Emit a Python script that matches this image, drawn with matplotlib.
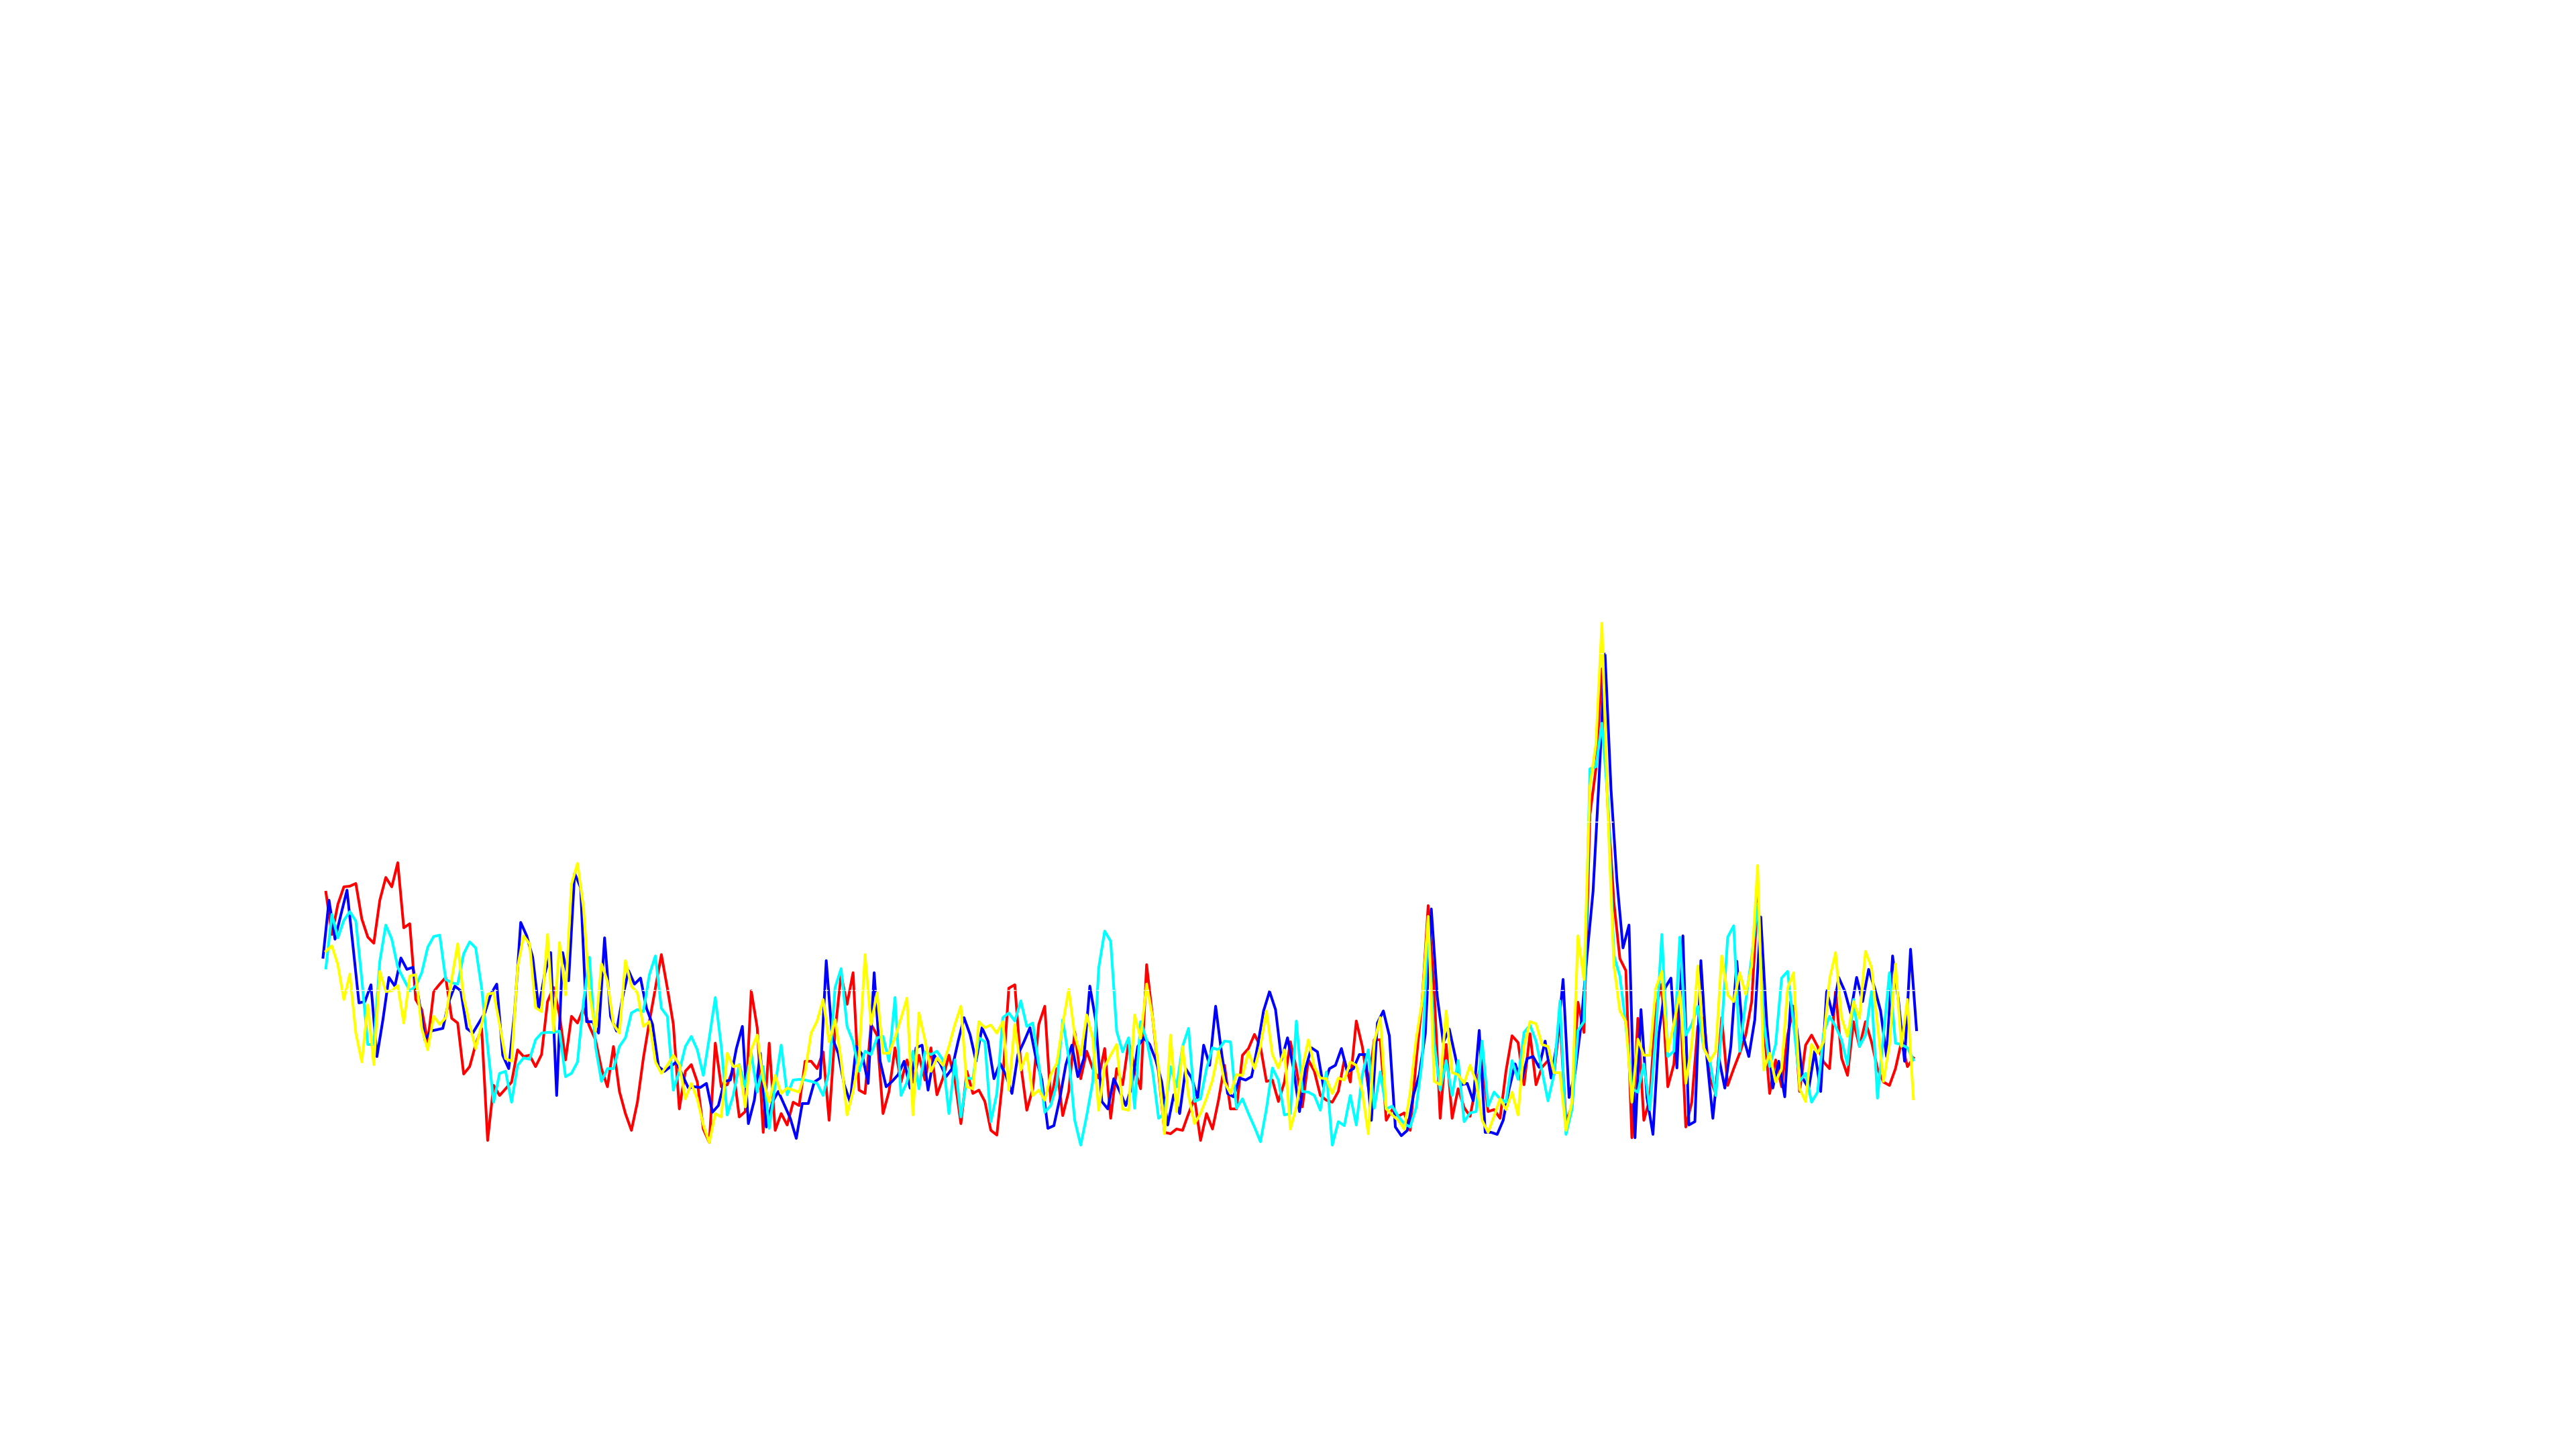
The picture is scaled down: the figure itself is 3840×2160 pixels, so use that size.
import numpy as np
import matplotlib
matplotlib.use("Agg")
import matplotlib.pyplot as plt
from matplotlib.ticker import MultipleLocator

# ── Data (amplitude, arbitrary units) ─────────────────────────────────────────
red = [
    397, 334, 379, 405, 406, 410, 357, 330, 321, 385,
    419, 405, 441, 344, 350, 237, 222, 174, 249, 260,
    270, 209, 202, 126, 137, 170, 194, 27, 109, 94,
    104, 114, 162, 152, 154, 137, 155, 234, 255, 214,
    147, 212, 202, 224,
    197, 177, 134, 107, 167, 100, 67, 42, 84, 150,
    204, 254, 304, 254, 200, 74, 130, 140, 114, 44,
    24, 172, 107, 110, 134, 62, 70, 250, 195, 39,
    172, 42, 67, 50, 84, 79, 145, 145, 134, 159,
    57, 190, 274, 230,
    277, 102, 97, 200, 184, 67, 100, 165, 114, 147,
    114, 154, 117, 165, 95, 120, 154, 117, 52, 130,
    97, 102, 85, 42, 35, 120, 254, 259, 140, 72,
    104, 200, 227, 84, 134, 64, 100, 189, 119, 160,
    134, 120, 164, 60, 134,
    110, 174, 134, 104, 289, 210, 127, 39, 37, 44,
    42, 67, 90, 27, 67, 44, 87, 139, 74, 74,
    154, 164, 185, 167, 115, 117, 85, 114, 174, 134,
    77, 147, 130, 94, 87, 84, 100, 147, 114, 205,
    167, 107, 177, 177, 57,
    73, 63, 68, 42, 146, 235, 377, 251, 60, 170,
    60, 104, 76, 63, 110, 146, 70, 73, 60, 131,
    183, 173, 110, 186, 110, 136, 146, 125, 209, 55,
    78, 233, 188, 513, 581, 730, 523, 382, 298, 280,
    31, 209, 57, 89, 225,
    260, 107, 140, 249, 47, 84, 197, 210, 120, 97,
    210, 109, 134, 157, 184, 234, 390, 204, 97, 147,
    107, 184, 227, 100, 169, 184, 167, 144, 134, 250,
    150, 124, 204, 167, 204, 174, 134, 114, 109, 134,
    174, 137, 150,
]

blue = [
    300, 385, 327, 364, 400, 317, 232, 234, 259, 152,
    207, 270, 257, 299, 282, 285, 237, 177, 190, 192,
    194, 234, 257, 250, 194, 187, 202, 217, 245, 260,
    154, 134, 220, 352, 332, 300, 224, 275, 307, 94,
    307, 265, 425, 404,
    204, 204, 187, 329, 212, 190, 240, 280, 260, 269,
    224, 200, 137, 130, 137, 144, 124, 105, 107, 106,
    112, 69, 79, 115, 117, 164, 197, 52, 87, 157,
    47, 84, 100, 80, 60, 30, 82, 82, 114, 120,
    295, 180, 157, 110,
    84, 167, 155, 112, 277, 145, 107, 115, 125, 145,
    105, 165, 169, 102, 154, 142, 122, 134, 174, 210,
    185, 145, 195, 175, 119, 142, 124, 97, 155, 174,
    195, 150, 117, 45, 49, 90, 140, 169, 122, 149,
    257, 205, 85, 74, 119,
    100, 79, 107, 167, 180, 170, 147, 114, 50, 95,
    67, 134, 120, 90, 169, 139, 227, 157, 97, 92,
    120, 117, 122, 167, 220, 249, 222, 147, 180, 134,
    70, 134, 165, 159, 107, 134, 139, 164, 129, 134,
    155, 155, 57, 202, 220,
    183, 47, 34, 42, 94, 125, 186, 372, 241, 173,
    193, 152, 110, 112, 86, 191, 39, 39, 36, 57,
    104, 141, 115, 149, 152, 136, 175, 120, 173, 267,
    91, 128, 199, 303, 398, 565, 752, 550, 413, 314,
    348, 31, 222, 91, 36,
    187, 254, 269, 135, 332, 50, 55, 295, 150, 60,
    150, 105, 167, 294, 184, 152, 207, 360, 200, 105,
    145, 92, 234, 194, 120, 104, 160, 100, 250, 214,
    270, 250, 217, 270, 234, 282, 254, 220, 152, 302,
    234, 145, 312, 192,
]

cyan = [
    284, 364, 329, 355, 368, 354, 267, 170, 170, 294,
    348, 327, 285, 267, 250, 257, 277, 315, 331, 333,
    267, 262, 260, 305, 323, 314, 254, 167, 84, 127,
    130, 84, 139, 150, 148, 177, 187, 188, 188, 190,
    122, 127, 144, 234,
    300, 167, 115, 134, 134, 167, 180, 217, 222, 219,
    274, 302, 224, 212, 102, 130, 167, 182, 162, 124,
    180, 240, 167, 65, 94, 140, 107, 157, 99, 137,
    45, 110, 169, 95, 117, 118, 117, 115, 112, 94,
    130, 255, 283, 197,
    174, 130, 160, 155, 180, 182, 145, 240, 94, 114,
    160, 104, 159, 155, 160, 147, 67, 147, 62, 120,
    119, 180, 174, 55, 97, 210, 217, 205, 235, 197,
    202, 140, 69, 79, 110, 207, 150, 57, 20, 64,
    114, 284, 339, 324, 190,
    159, 180, 75, 204, 177, 130, 60, 67, 137, 107,
    167, 194, 85, 89, 134, 165, 162, 175, 174, 75,
    89, 67, 47, 25, 74, 135, 117, 65, 67, 205,
    100, 99, 94, 72, 129, 20, 55, 49, 94, 50,
    124, 162, 75, 129, 74,
    78, 63, 52, 47, 76, 146, 353, 173, 102, 146,
    94, 146, 55, 68, 70, 175, 78, 99, 89, 84,
    146, 118, 188, 199, 175, 131, 86, 125, 235, 36,
    73, 191, 204, 581, 584, 649, 534, 303, 272, 199,
    104, 99, 141, 73, 183,
    334, 152, 160, 330, 184, 200, 227, 164, 147, 94,
    194, 330, 347, 160, 234, 300, 380, 207, 137, 170,
    269, 279, 200, 115, 127, 84, 99, 187, 212, 197,
    177, 140, 237, 167, 184, 249, 90, 184, 277, 172,
    170, 165, 147,
]

yellow = [
    309, 317, 289, 237, 275, 187, 144, 229, 140, 279,
    249, 250, 258, 202, 272, 274, 194, 162, 212, 200,
    210, 267, 320, 240, 200, 164, 200, 245, 247, 200,
    149, 145, 285, 332, 320, 225, 219, 334, 190, 322,
    244, 409, 440, 374,
    247, 190, 290, 264, 200, 187, 295, 257, 247, 197,
    204, 144, 127, 139, 154, 140, 89, 112, 89, 50,
    24, 67, 62, 157, 137, 139, 77, 162, 184, 117,
    84, 124, 97, 105, 102, 99, 129, 187, 205, 237,
    174, 207, 147, 65,
    100, 150, 304, 200, 247, 157, 157, 180, 209, 239,
    65, 217, 177, 130, 150, 139, 167, 200, 227, 107,
    104, 204, 195, 199, 187, 204, 102, 200, 132, 157,
    94, 102, 87, 125, 142, 200, 252, 184, 154, 214,
    180, 72, 137, 154, 170,
    74, 72, 214, 179, 260, 210, 134, 37, 184, 70,
    167, 94, 52, 67, 90, 117, 160, 114, 97, 125,
    124, 159, 134, 167, 220, 155, 135, 162, 44, 77,
    134, 177, 137, 120, 119, 97, 120, 117, 144, 139,
    100, 37, 174, 210, 74,
    65, 57, 44, 99, 178, 235, 361, 115, 110, 220,
    128, 125, 112, 139, 115, 57, 39, 63, 89, 73,
    99, 65, 167, 204, 201, 170, 167, 128, 128, 42,
    84, 332, 267, 555, 618, 798, 513, 288, 220, 204,
    84, 178, 154, 154, 254,
    279, 160, 200, 249, 112, 170, 287, 165, 145, 160,
    302, 244, 234, 277, 245, 287, 437, 132, 157, 114,
    134, 254, 277, 104, 85, 170, 157, 174, 267, 307,
    210, 182, 234, 209, 309, 285, 200, 115, 170, 290,
    167, 237, 89,
]

BLUE_SHIFT = -0.48   # blue samples sit half a step ahead of the others


def main():
    fig = plt.figure(figsize=(19.2, 10.8), dpi=200, facecolor="white")
    ax = fig.add_axes([0, 0, 1, 1])
    ax.set_facecolor("white")

    x = np.arange(len(red))
    xb = np.arange(len(blue)) + BLUE_SHIFT

    lw = 1.45
    ax.plot(x, red, color=(1, 0, 0), lw=lw)
    ax.plot(xb, blue, color=(0, 0, 1), lw=lw)
    ax.plot(x, cyan, color=(0, 1, 1), lw=lw)
    ax.plot(x, yellow, color=(1, 1, 0), lw=lw)

    ax.set_xlim(-54.4, 375.6)
    ax.set_ylim(-433, 1727)

    # white dashed grid over white background: only shows where it cuts lines
    ax.yaxis.set_major_locator(MultipleLocator(251))
    ax.set_axisbelow(False)
    ax.grid(axis="y", color="white", linestyle="--", linewidth=0.5)
    ax.tick_params(left=False, bottom=False, labelleft=False, labelbottom=False)
    for s in ax.spines.values():
        s.set_visible(False)

    fig.savefig("out.png", dpi=200, facecolor="white")
    plt.close(fig)


if __name__ == "__main__":
    main()
